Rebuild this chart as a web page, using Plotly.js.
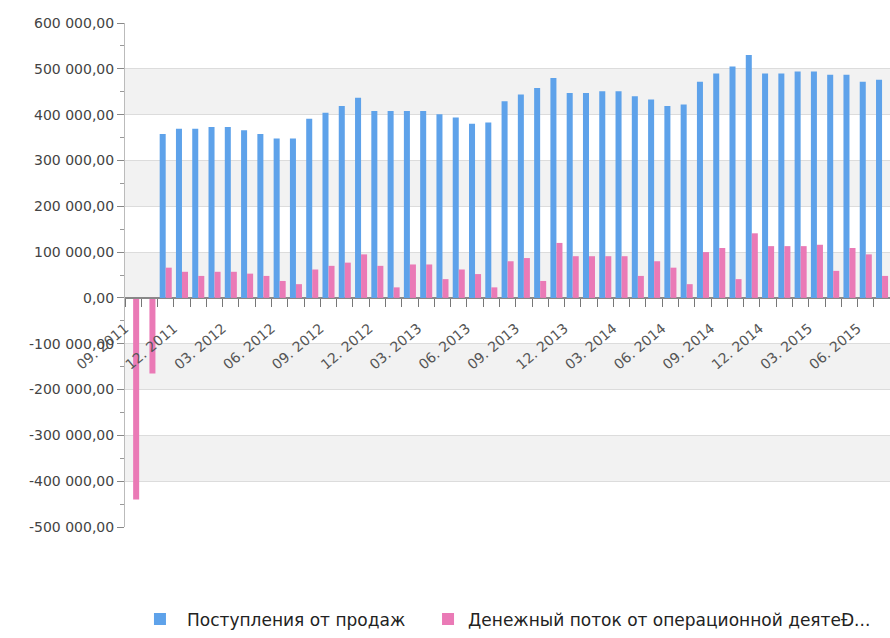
<!DOCTYPE html>
<html>
<head>
<meta charset="utf-8">
<script src="https://cdn.plot.ly/plotly-3.0.1.min.js"></script>
<style>
html,body{margin:0;padding:0;background:#fff;overflow:hidden;}
#chart{width:891px;height:638px;}
</style>
</head>
<body>
<div id="chart"></div>
<script>
const categories = [
  '09. 2011','10. 2011','11. 2011','12. 2011',
  '01. 2012','02. 2012','03. 2012','04. 2012','05. 2012','06. 2012','07. 2012','08. 2012','09. 2012','10. 2012','11. 2012','12. 2012',
  '01. 2013','02. 2013','03. 2013','04. 2013','05. 2013','06. 2013','07. 2013','08. 2013','09. 2013','10. 2013','11. 2013','12. 2013',
  '01. 2014','02. 2014','03. 2014','04. 2014','05. 2014','06. 2014','07. 2014','08. 2014','09. 2014','10. 2014','11. 2014','12. 2014',
  '01. 2015','02. 2015','03. 2015','04. 2015','05. 2015','06. 2015','07. 2015'
];
const salesReceipts = [
  null, null, 358000, 369000,
  369000, 373000, 373000, 366000, 358000, 348000, 348000, 391000, 404000, 419000, 437000, 408000,
  408000, 408000, 408000, 401000, 394000, 380000, 383000, 429000, 444000, 458000, 480000, 447000,
  447000, 451000, 451000, 440000, 433000, 419000, 422000, 472000, 490000, 505000, 530000, 490000,
  490000, 494000, 494000, 487000, 487000, 472000, 476000
];
const operatingCashFlow = [
  -440000, -165000, 66000, 57000,
  48000, 57000, 57000, 53000, 48000, 37000, 30000, 62000, 70000, 77000, 95000, 70000,
  23000, 73000, 73000, 41000, 62000, 52000, 23000, 80000, 87000, 37000, 120000, 91000,
  91000, 91000, 91000, 48000, 80000, 66000, 30000, 100000, 109000, 41000, 141000, 113000,
  113000, 113000, 116000, 59000, 109000, 95000, 48000
];
const seriesNames = ['Поступления от продаж', 'Денежный поток от операционной деятеÐ...'];
const yTickVals = [600000, 500000, 400000, 300000, 200000, 100000, 0, -100000, -200000, -300000, -400000, -500000];
const yTickLabels = ['600 000,00','500 000,00','400 000,00','300 000,00','200 000,00','100 000,00','0,00','-100 000,00','-200 000,00','-300 000,00','-400 000,00','-500 000,00'];
const labelStep = 3;

const idx = categories.map((c, i) => i);
const labelIdx = idx.filter(i => i % labelStep === 0);

const yMin = -500000, yMax = 600000;
const bands = [];
for (let v = 400000; v > yMin; v -= 200000) {
  bands.push({type:'rect', xref:'paper', yref:'y', x0:0, x1:1, y0:v, y1:v+100000,
    fillcolor:'#f2f2f2', line:{width:0}, layer:'below'});
}

const traces = [
  {type:'bar', name:seriesNames[0], x:idx, y:salesReceipts, legend:'legend',
   marker:{color:'rgb(94,162,234)', line:{width:0}}, hoverinfo:'y'},
  {type:'bar', name:seriesNames[1], x:idx, y:operatingCashFlow, legend:'legend2',
   marker:{color:'rgb(234,122,182)', line:{width:0}}, hoverinfo:'y'}
];

const legendFont = {family:'DejaVu Sans, Verdana, sans-serif', size:17, color:'#222'};

const layout = {
  width:891, height:638,
  margin:{l:125, r:0, t:23, b:103},
  paper_bgcolor:'#fff', plot_bgcolor:'#fff',
  barmode:'group', bargap:0.26, bargroupgap:0,
  font:{family:'DejaVu Sans, Verdana, sans-serif', size:12, color:'#444'},
  showlegend:true,
  legend:{orientation:'h', x:0.0104, xanchor:'left', y:-0.1836, yanchor:'middle',
    font:legendFont, itemwidth:44, bgcolor:'rgba(0,0,0,0)'},
  legend2:{orientation:'h', x:0.3956, xanchor:'left', y:-0.1836, yanchor:'middle',
    font:legendFont, itemwidth:30, bgcolor:'rgba(0,0,0,0)'},
  shapes:bands,
  xaxis:{
    type:'linear', range:[-0.5, 46.55],
    anchor:'free', position:(0 - yMin)/(yMax - yMin),
    showgrid:false, zeroline:false,
    showline:true, linecolor:'#888', linewidth:1,
    tickmode:'array', tickvals:labelIdx.map(i => i - 0.5), ticktext:labelIdx.map(i => categories[i]),
    ticks:'outside', ticklen:8, tickcolor:'#777', tickwidth:1,
    minor:{tickmode:'linear', tick0:0.5, dtick:1, ticks:'outside', ticklen:8, tickcolor:'#777', tickwidth:1, showgrid:false},
    tickangle:-40, ticklabelstandoff:8,
    tickfont:{family:'DejaVu Sans, Verdana, sans-serif', size:14, color:'#555'},
    fixedrange:true
  },
  yaxis:{
    range:[yMin, yMax],
    tickmode:'array', tickvals:yTickVals, ticktext:yTickLabels,
    showgrid:true, gridcolor:'#dcdcdc', gridwidth:1,
    zeroline:true, zerolinecolor:'#888', zerolinewidth:1,
    showline:true, linecolor:'#bbb', linewidth:1,
    ticks:'outside', ticklen:7, tickcolor:'#888',
    minor:{tickmode:'linear', tick0:50000, dtick:100000, ticks:'outside', ticklen:4, tickcolor:'#999', showgrid:false},
    tickfont:{family:'DejaVu Sans, Verdana, sans-serif', size:14, color:'#444'},
    fixedrange:true
  }
};

Plotly.newPlot('chart', traces, layout, {displayModeBar:false, staticPlot:true});
</script>
</body>
</html>
